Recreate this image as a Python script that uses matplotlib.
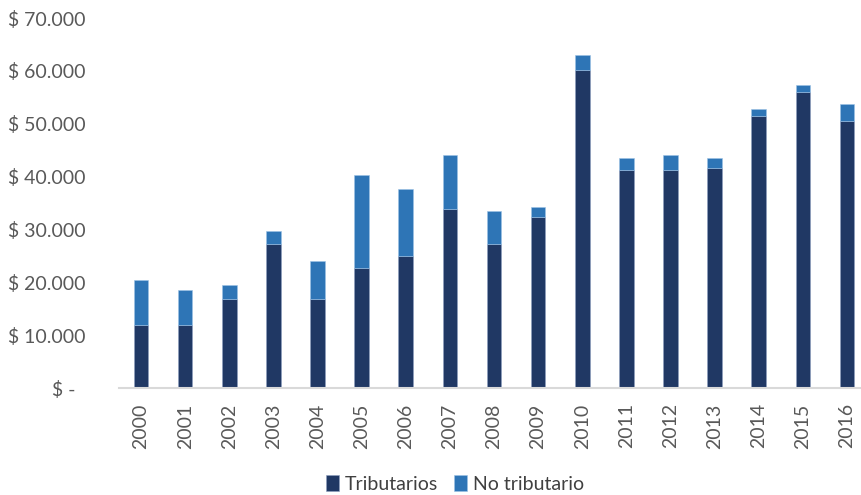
import matplotlib.pyplot as plt
from matplotlib.ticker import FuncFormatter

years = ['2000', '2001', '2002', '2003', '2004', '2005', '2006', '2007', '2008',
         '2009', '2010', '2011', '2012', '2013', '2014', '2015', '2016']
tributarios = [12000, 12000, 16800, 27300, 16800, 22700, 25000, 33800, 27300,
               32400, 60200, 41300, 41300, 41700, 51400, 56000, 50500]
totales = [20400, 18500, 19500, 29700, 24100, 40300, 37600, 44000, 33400,
           34300, 63000, 43500, 44000, 43500, 52800, 57400, 53700]
no_tributario = [t - d for t, d in zip(totales, tributarios)]

plt.rcParams['font.family'] = ['Lato', 'DejaVu Sans']

fig = plt.figure(figsize=(8.61, 4.95), dpi=100)
ax = fig.add_axes([119 / 861, 1 - 388 / 495, (869 - 119) / 861, (388 - 18) / 495])

x = range(len(years))
ax.bar(x, tributarios, width=0.33, color='#203864', edgecolor='#8ea0c0', linewidth=0.4,
       label='Tributarios')
ax.bar(x, no_tributario, bottom=tributarios, width=0.33, color='#2e75b6',
       edgecolor='#9dc3e6', linewidth=0.4, label='No tributario')

ax.set_ylim(0, 70000)
ax.set_xlim(-0.5, len(years) - 0.5)
ax.set_yticks(range(0, 70001, 10000))


# formato contable: "$ 10.000", cero como "$ -"
def money(v, pos):
    if v == 0:
        return '$ -  '
    return '$ ' + f'{int(v):,}'.replace(',', '.')


ax.yaxis.set_major_formatter(FuncFormatter(money))
ax.set_xticks(list(x))
ax.set_xticklabels(years, rotation=90)
ax.tick_params(axis='both', length=0, labelsize=14, labelcolor='#595959')
ax.tick_params(axis='y', pad=24)
ax.tick_params(axis='x', pad=11)

for s in ['top', 'right', 'left']:
    ax.spines[s].set_visible(False)
ax.spines['bottom'].set_color('#d9d9d9')
ax.spines['bottom'].set_linewidth(1.5)

fig.legend(loc='center', bbox_to_anchor=(455 / 861, 1 - 484 / 495), ncol=2,
           frameon=False, fontsize=14, labelcolor='#404040', handlelength=0.7,
           handleheight=0.9, handletextpad=0.3, columnspacing=0.8)

fig.savefig('out.png', dpi=100)
